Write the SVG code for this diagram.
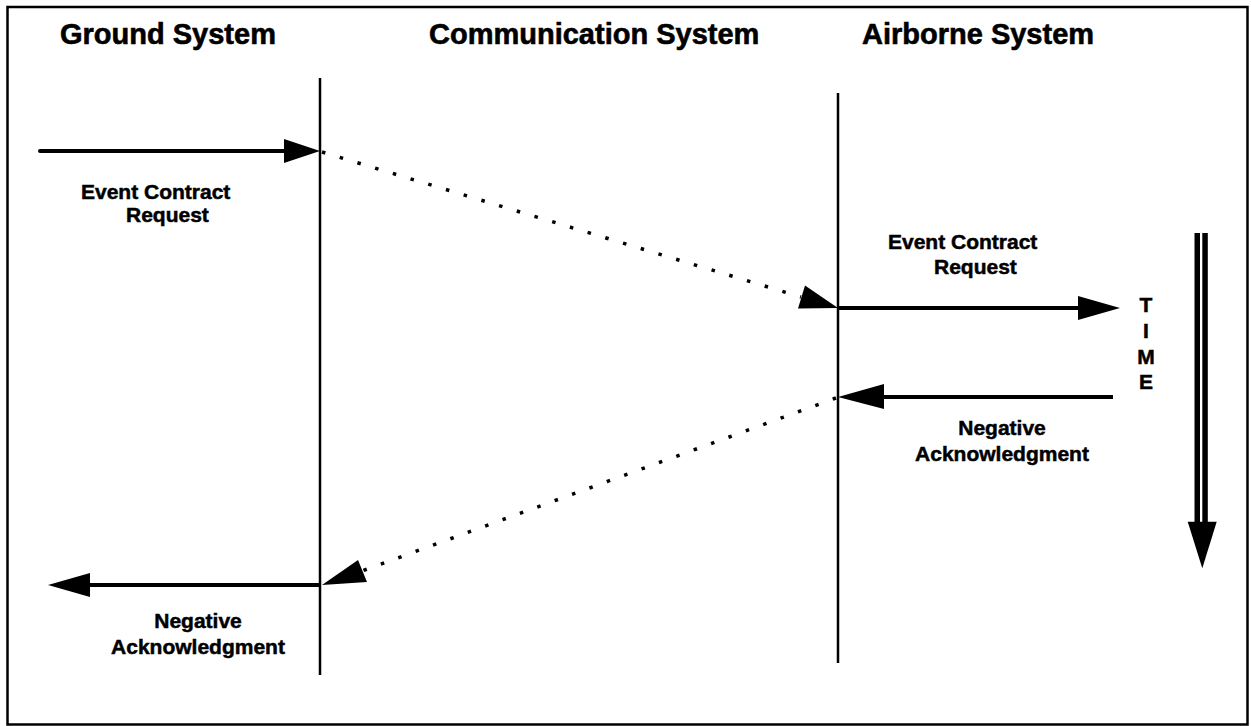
<svg xmlns="http://www.w3.org/2000/svg" width="1251" height="726" viewBox="0 0 1251 726">
  <style>
    .title { font-family: "Liberation Sans", Arial, sans-serif; font-weight: bold; font-size: 29px; fill: #000; stroke: #000; stroke-width: 0.6; }
    .label { font-family: "Liberation Sans", Arial, sans-serif; font-weight: bold; font-size: 21px; fill: #000; stroke: #000; stroke-width: 0.5; }
    .life { stroke: #000; stroke-width: 2.5; fill: none; }
    .msg { stroke: #000; stroke-width: 4; fill: none; }
    .dots { stroke: #000; stroke-width: 3.5; stroke-dasharray: 3.5 15; fill: none; }
    .head { fill: #000; stroke: none; }
  </style>

  <rect width="1251" height="726" fill="#fff"/>
  <!-- frame -->
  <rect x="7.5" y="7" width="1240" height="717.5" fill="none" stroke="#000" stroke-width="2.5"/>

  <!-- column headings and lifelines -->
  <g id="ground-system">
    <text class="title" x="60" y="44">Ground System</text>
    <line class="life" x1="320" y1="78" x2="320" y2="675"/>
  </g>
  <g id="communication-system">
    <text class="title" x="429" y="44">Communication System</text>
  </g>
  <g id="airborne-system">
    <text class="title" x="862" y="44">Airborne System</text>
    <line class="life" x1="838" y1="93" x2="838" y2="663"/>
  </g>

  <!-- time axis -->
  <g id="time-axis">
    <rect x="1194.5" y="233" width="5.5" height="290" fill="#000"/>
    <rect x="1202.3" y="233" width="5.5" height="290" fill="#000"/>
    <polygon class="head" points="1187.7,521.7 1216.7,521.7 1202.3,568.3"/>
    <text class="label" text-anchor="middle" x="1146" y="312">T</text>
    <text class="label" text-anchor="middle" x="1146" y="338">I</text>
    <text class="label" text-anchor="middle" x="1146" y="364">M</text>
    <text class="label" text-anchor="middle" x="1146" y="389">E</text>
  </g>

  <!-- message labels -->
  <g id="label-request-ground">
    <text class="label" x="81" y="199">Event Contract</text>
    <text class="label" x="126" y="222">Request</text>
  </g>
  <g id="label-request-airborne">
    <text class="label" x="888" y="249">Event Contract</text>
    <text class="label" x="934" y="274">Request</text>
  </g>
  <g id="label-nak-airborne">
    <text class="label" text-anchor="middle" x="1002" y="435">Negative</text>
    <text class="label" text-anchor="middle" x="1002" y="461">Acknowledgment</text>
  </g>
  <g id="label-nak-ground">
    <text class="label" text-anchor="middle" x="198" y="628">Negative</text>
    <text class="label" text-anchor="middle" x="198" y="654">Acknowledgment</text>
  </g>

  <!-- connectors -->
  <g id="connectors">
    <!-- request into ground system -->
    <line class="msg" x1="40" y1="151" x2="288" y2="151" stroke-linecap="round"/>
    <polygon class="head" points="284,139 320,151 284,163"/>

    <!-- request through communication system -->
    <line class="dots" x1="322" y1="152" x2="801" y2="297"/>
    <polygon class="head" points="798,308.5 805,285.5 838,308"/>

    <!-- request delivered to airborne system -->
    <line class="msg" x1="838" y1="308" x2="1082" y2="308"/>
    <polygon class="head" points="1078,296 1120,308 1078,320"/>

    <!-- negative acknowledgment from airborne system -->
    <line class="msg" x1="1113" y1="397" x2="880" y2="397"/>
    <polygon class="head" points="884,384 838,397 884,409"/>

    <!-- negative acknowledgment through communication system -->
    <line class="dots" x1="836" y1="398" x2="362" y2="571"/>
    <polygon class="head" points="358,560 367,582 322,585"/>

    <!-- negative acknowledgment out of ground system -->
    <line class="msg" x1="320" y1="585" x2="86" y2="585"/>
    <polygon class="head" points="90,573 48,585 90,597"/>
  </g>
</svg>
